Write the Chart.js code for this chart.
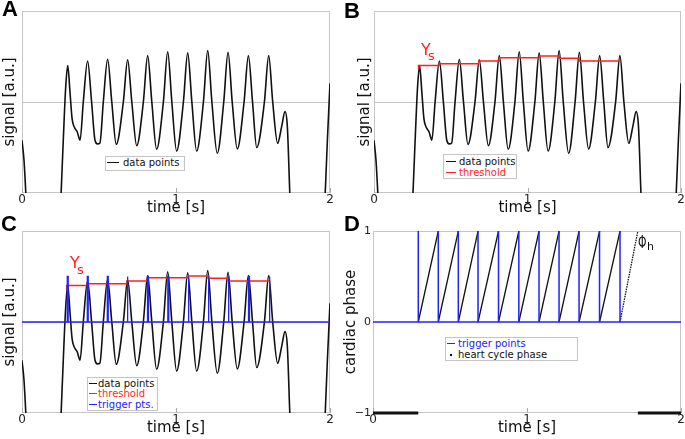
<!DOCTYPE html>
<html>
<head>
<meta charset="utf-8">
<script src="https://cdn.jsdelivr.net/npm/chart.js@4.4.1/dist/chart.umd.min.js"></script>
<style>
  body { margin: 0; background: #fff; font-family: 'DejaVu Sans', sans-serif; }
  #wrap { position: relative; width: 685px; height: 439px; overflow: hidden; }
  canvas { position: absolute; }
  .letter { position: absolute; font: bold 22px 'Liberation Sans', Arial, sans-serif; line-height: 1; color: #000; }
  .note { position: absolute; line-height: 1; white-space: nowrap; }
  .legend { position: absolute; background: #fff; border: 1px solid #c4c4c4; box-sizing: border-box; font-size: 10px; white-space: nowrap; }
  .legend .row { display: flex; align-items: center; }
  .legend .sw { display: inline-block; height: 0; border-top: 1.5px solid; }
  .legend .dotsw { display: inline-flex; justify-content: center; align-items: center; }
  .legend .dotsw i { display: block; width: 2px; height: 2px; background: #111; }
</style>
</head>
<body>
<div id="wrap">
  <canvas id="chartA" width="340" height="220" style="left:0;top:0"></canvas>
  <canvas id="chartB" width="345" height="220" style="left:340px;top:0"></canvas>
  <canvas id="chartC" width="340" height="219" style="left:0;top:220px"></canvas>
  <canvas id="chartD" width="345" height="219" style="left:340px;top:220px"></canvas>

  <div class="letter" style="left:2px;top:-2px">A</div>
  <div class="letter" style="left:344px;top:0px">B</div>
  <div class="letter" style="left:1px;top:213px">C</div>
  <div class="letter" style="left:344px;top:213px">D</div>

  <div class="note" style="left:421px;top:42px;font-size:16px;color:#ff1f1f">Y</div>
  <div class="note" style="left:428px;top:49px;font-size:13px;color:#ff1f1f">s</div>
  <div class="note" style="left:70px;top:255px;font-size:16px;color:#ff1f1f">Y</div>
  <div class="note" style="left:77px;top:263px;font-size:13px;color:#ff1f1f">s</div>
  <div class="note" style="left:638px;top:233px;font-size:18px;color:#111;transform:scaleX(0.6);transform-origin:left">Φ</div>
  <div class="note" style="left:647px;top:241px;font-size:11px;color:#111">h</div>

  <div class="legend" id="legA" style="left:105px;top:156px;width:80px;height:15px;padding:0 0 0 1px"></div>
  <div class="legend" id="legB" style="left:443px;top:154px;width:74px;height:25px;padding:0.5px 0 0 2px"></div>
  <div class="legend" id="legC" style="left:87px;top:377px;width:71px;height:34px;padding:0 0 0 1px"></div>
  <div class="legend" id="legD" style="left:445px;top:337px;width:133px;height:24px;padding:0 0 0 1px"></div>
</div>

<script>
// signal trace (time in s, signal in a.u., axis spans -1..1)
const sigTime = [0.000, 0.013, 0.026, 0.040, 0.240, 0.253, 0.268, 0.284, 0.297,
  0.312, 0.325, 0.338, 0.359, 0.377, 0.398, 0.426,
  0.452, 0.474, 0.490, 0.506, 0.528, 0.556,
  0.583, 0.612, 0.658, 0.686,
  0.713, 0.745, 0.788, 0.816,
  0.843, 0.874, 0.918, 0.946,
  0.973, 1.004, 1.048, 1.076,
  1.103, 1.134, 1.178, 1.206,
  1.233, 1.268, 1.310, 1.338,
  1.365, 1.398, 1.442, 1.470,
  1.497, 1.524, 1.574, 1.602,
  1.628, 1.660, 1.686, 1.708, 1.723, 1.740, 1.755, 1.955, 1.968, 1.983, 2.000];
const sigValue = [-0.42, -0.64, -1.04, -1.50, -1.50, -1.04, -0.42, 0.17, 0.40,
  0.10, -0.18, -0.27, -0.33, -0.42, 0.00, 0.45,
  0.00, -0.42, -0.46, -0.45, 0.00, 0.47,
  0.00, -0.465, 0.00, 0.465,
  0.00, -0.48, 0.00, 0.51,
  0.00, -0.52, 0.00, 0.553,
  0.00, -0.54, 0.00, 0.54,
  0.00, -0.54, 0.00, 0.565,
  0.00, -0.564, 0.00, 0.546,
  0.00, -0.516, 0.00, 0.51,
  0.00, -0.50, 0.00, 0.51,
  0.00, -0.454, -0.27, -0.106, -0.27, -1.04, -1.50, -1.50, -1.04, -0.42, 0.205];

// threshold Y_s (step line)
const threshTime = [0.29, 0.29, 0.424, 0.424, 0.682, 0.682, 0.815, 0.815, 1.078, 1.078, 1.208, 1.208, 1.338, 1.338, 1.604];
const threshValue = [0.36, 0.40, 0.40, 0.42, 0.42, 0.45, 0.45, 0.485, 0.485, 0.505, 0.505, 0.48, 0.48, 0.45, 0.45];

// trigger points
const triggerTimes = [0.294, 0.424, 0.554, 0.682, 0.815, 0.947, 1.078, 1.208, 1.338, 1.471, 1.604];
const triggerHeightC = 0.5;
const triggerHeightD = 1;

// end of the last (extrapolated) heart cycle
const lastCycleEnd = 1.72;

const timeTicks = [0, 1, 2];
const phaseTicks = [-1, 0, 1];

const BLACK = '#111';
const RED = '#ff1f1f';
const BLUE = '#2222ff';

Chart.defaults.font.family = "'DejaVu Sans', sans-serif";
Chart.defaults.animation = false;

const signalData = sigTime.map((t, i) => ({ x: t, y: sigValue[i] }));
const thresholdData = threshTime.map((t, i) => ({ x: t, y: threshValue[i] }));

function triggerData(h, w) {
  const d = [{ x: 0, y: 0 }];
  triggerTimes.forEach(t => {
    d.push({ x: t, y: 0 }, { x: t, y: h }, { x: t + w, y: h }, { x: t + w, y: 0 });
  });
  d.push({ x: 2, y: 0 });
  return d;
}

// phase ramps 0 -> 1 between consecutive triggers
const phaseData = [];
triggerTimes.forEach((t, i) => {
  const next = i < triggerTimes.length - 1 ? triggerTimes[i + 1] : lastCycleEnd;
  phaseData.push({ x: t, y: 0 }, { x: next, y: 1 }, { x: next, y: null });
});
// outside the detected cycles the phase is -1
const phaseOutside = [
  { x: 0, y: -1 }, { x: triggerTimes[0], y: -1 }, { x: triggerTimes[0], y: null },
  { x: lastCycleEnd, y: -1 }, { x: 2, y: -1 }
];

function signalSet() {
  return { label: 'data points', data: signalData, borderColor: BLACK, borderWidth: 1.6,
    pointRadius: 0, cubicInterpolationMode: 'monotone', order: 3 };
}
function thresholdSet() {
  return { label: 'threshold', data: thresholdData, borderColor: RED, borderWidth: 1.5,
    pointRadius: 0, tension: 0, order: 2 };
}

const framePlugin = {
  id: 'frame',
  beforeDatasetsDraw(chart) {
    const { ctx, chartArea: a, scales: { x } } = chart;
    ctx.save();
    ctx.strokeStyle = '#c6c6c6';
    ctx.lineWidth = 1;
    ctx.strokeRect(a.left + 0.5, a.top + 0.5, a.right - a.left - 1, a.bottom - a.top - 1);
    ctx.strokeStyle = '#aaa';
    x.ticks.forEach(t => {
      const px = Math.round(x.getPixelForValue(t.value)) + 0.5;
      ctx.beginPath();
      ctx.moveTo(px, a.bottom);
      ctx.lineTo(px, a.bottom - 5);
      ctx.stroke();
    });
    ctx.restore();
  }
};

function makeOptions(o) {
  return {
    responsive: false,
    layout: { padding: { left: 0, top: 11, right: o.right, bottom: 0 } },
    plugins: { legend: { display: false }, tooltip: { enabled: false } },
    scales: {
      x: {
        type: 'linear', min: 0, max: 2,
        afterBuildTicks: s => { s.ticks = timeTicks.map(v => ({ value: v })); },
        afterFit: s => { s.height = o.xh; },
        grid: { display: false, drawTicks: false },
        border: { display: false },
        ticks: { padding: 0, color: '#222', font: { size: 12 }, maxRotation: 0, autoSkip: false },
        title: { display: true, text: 'time [s]', color: BLACK, font: { size: 15 },
          padding: { top: 0, bottom: o.xtp } }
      },
      y: {
        type: 'linear', min: -1, max: 1,
        afterBuildTicks: s => { s.ticks = phaseTicks.map(v => ({ value: v })); },
        afterFit: s => { s.width = o.yw; },
        grid: { display: !o.phase, drawTicks: false,
          color: c => c.tick && c.tick.value === 0 ? '#c4c4c4' : 'rgba(0,0,0,0)' },
        border: { display: false },
        ticks: { display: !!o.phase, padding: 2, color: '#222', font: { size: 11 },
          callback: v => v < 0 ? '\u2212' + Math.abs(v) : String(v) },
        title: { display: true, text: o.ytitle, color: BLACK, font: { size: 15 },
          padding: { top: o.ytp, bottom: 0 } }
      }
    }
  };
}

function buildLegend(chart, id, sw, gap, rowH) {
  const el = document.getElementById(id);
  el.innerHTML = chart.data.datasets.filter(d => d.label).map(d => {
    const mark = d.dotLegend
      ? '<span class="dotsw" style="width:' + sw + 'px;margin-right:' + gap + 'px"><i></i></span>'
      : '<span class="sw" style="width:' + sw + 'px;margin-right:' + gap + 'px;border-color:' + d.borderColor + '"></span>';
    return '<div class="row" style="height:' + rowH + 'px;color:' + d.borderColor + '">' + mark + d.label + '</div>';
  }).join('');
}

const chartA = new Chart(document.getElementById('chartA'), {
  type: 'line',
  data: { datasets: [signalSet()] },
  options: makeOptions({ right: 10, yw: 22, xh: 27, xtp: 2.5, ytp: 1.5, ytitle: 'signal [a.u.]' }),
  plugins: [framePlugin]
});

const chartB = new Chart(document.getElementById('chartB'), {
  type: 'line',
  data: { datasets: [signalSet(), thresholdSet()] },
  options: makeOptions({ right: 4, yw: 34, xh: 27, xtp: 2.5, ytp: 16.5, ytitle: 'signal [a.u.]' }),
  plugins: [framePlugin]
});

const chartC = new Chart(document.getElementById('chartC'), {
  type: 'line',
  data: { datasets: [signalSet(), thresholdSet(),
    { label: 'trigger pts.', data: triggerData(triggerHeightC, 0.006), borderColor: BLUE, borderWidth: 1.3,
      pointRadius: 0, tension: 0, order: 1 }] },
  options: makeOptions({ right: 10, yw: 22, xh: 26, xtp: 1.5, ytp: 1.5, ytitle: 'signal [a.u.]' }),
  plugins: [framePlugin]
});

const chartD = new Chart(document.getElementById('chartD'), {
  type: 'line',
  data: { datasets: [
    { label: 'trigger points', data: triggerData(triggerHeightD, 0), borderColor: BLUE, borderWidth: 1.5,
      pointRadius: 0, tension: 0, order: 1 },
    { label: 'heart cycle phase', dotLegend: true, data: phaseData, borderColor: BLACK, borderWidth: 1.3,
      pointRadius: 0, tension: 0, order: 2,
      segment: { borderDash: c => c.p0.parsed.x >= triggerTimes[triggerTimes.length - 1] ? [1.5, 1] : undefined } },
    { label: '', data: phaseOutside, borderColor: BLACK, borderWidth: 3, pointRadius: 0, tension: 0,
      order: 2, clip: 4 }
  ] },
  options: makeOptions({ right: 4, yw: 33, xh: 26, xtp: 1.5, ytp: 2.5, ytitle: 'cardiac phase', phase: true }),
  plugins: [framePlugin]
});

buildLegend(chartA, 'legA', 12, 4, 11);
buildLegend(chartB, 'legB', 10, 3, 11);
buildLegend(chartC, 'legC', 8, 1, 10.5);
buildLegend(chartD, 'legD', 8, 3, 11);
</script>
</body>
</html>
